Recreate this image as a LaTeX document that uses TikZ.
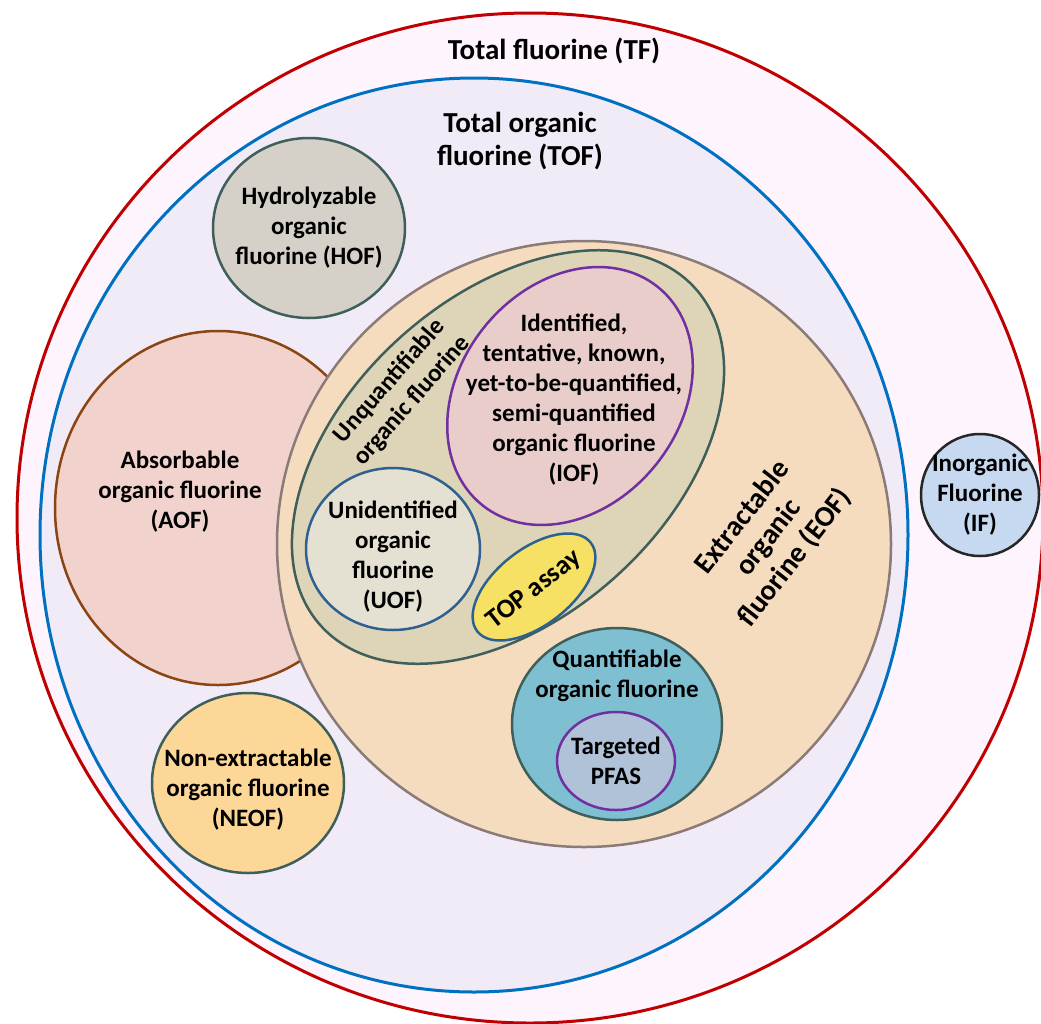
\documentclass[tikz,border=0pt]{standalone}
\usepackage{fontspec}
\setmainfont{Carlito}
\usepackage{tikz}
\usetikzlibrary{shapes.geometric}

\definecolor{tfline}{HTML}{C00000}
\definecolor{tffill}{HTML}{FDF4FD}
\definecolor{tofline}{HTML}{0070C0}
\definecolor{toffill}{HTML}{F1EBF7}
\definecolor{hoffill}{HTML}{D5D1C8}
\definecolor{darkslate}{HTML}{3F5F5A}
\definecolor{aofline}{HTML}{8B4513}
\definecolor{aoffill}{HTML}{F2D2CC}
\definecolor{neoffill}{HTML}{FDD797}
\definecolor{iffill}{HTML}{C6D9F1}
\definecolor{eofline}{HTML}{8B7B78}
\definecolor{eoffill}{HTML}{F5DCBF}
\definecolor{unqfill}{HTML}{DED4B8}
\definecolor{iofline}{HTML}{7030A0}
\definecolor{ioffill}{HTML}{E8CDCB}
\definecolor{uofline}{HTML}{2E6190}
\definecolor{uoffill}{HTML}{E4E0D2}
\definecolor{topfill}{HTML}{F7E164}
\definecolor{qoffill}{HTML}{7FBFD2}
\definecolor{pfasfill}{HTML}{AFC2D8}

\tikzset{
   zone/.style={ellipse, draw, line width=2.5pt, inner sep=0pt},
   tag/.style={inner sep=0pt, align=center, font=\bfseries\fontsize{25}{30}\selectfont},
   bigtag/.style={inner sep=0pt, align=center, font=\bfseries\fontsize{29}{33}\selectfont}
}

\begin{document}
\begin{tikzpicture}[x=1pt,y=-1pt]
   \useasboundingbox (0,0) rectangle (1041,1023);

   \node[name=tf, zone, minimum width=1026pt, minimum height=1010pt, style={
      draw = tfline,
      fill = tffill,
      line width = 3pt
   }] at (530,518) {};

   \node[name=tof, zone, minimum width=868pt, minimum height=914pt, style={
      draw = tofline,
      fill = toffill,
      line width = 3pt
   }] at (474,535) {};

   \node[name=hof, zone, minimum width=192pt, minimum height=180pt, style={
      draw = darkslate,
      fill = hoffill
   }] at (309,228) {};

   \node[name=aof, zone, minimum width=326pt, minimum height=354pt, style={
      draw = aofline,
      fill = aoffill
   }] at (218,508) {};

   \node[name=neof, zone, minimum width=192pt, minimum height=180pt, style={
      draw = darkslate,
      fill = neoffill
   }] at (248,783) {};

   \node[name=inf, zone, minimum width=118pt, minimum height=122pt, style={
      draw = black!85,
      fill = iffill
   }] at (980,495) {};

   \node[name=eof, zone, minimum width=614pt, minimum height=606pt, style={
      draw = eofline,
      fill = eoffill
   }] at (584,544) {};

   \node[name=unq, zone, minimum width=504pt, minimum height=322pt, rotate=42, style={
      draw = darkslate,
      fill = unqfill
   }] at (508,457) {};

   \node[name=iof, zone, minimum width=280pt, minimum height=220pt, rotate=51, style={
      draw = iofline,
      fill = ioffill
   }] at (570,396) {};

   \node[name=uof, zone, minimum width=174pt, minimum height=162pt, style={
      draw = uofline,
      fill = uoffill
   }] at (393,549) {};

   \node[name=top, zone, minimum width=144pt, minimum height=76pt, rotate=38, style={
      draw = uofline,
      fill = topfill
   }] at (534,587) {};

   \node[name=qof, zone, minimum width=210pt, minimum height=192pt, style={
      draw = darkslate,
      fill = qoffill
   }] at (617,724) {};

   \node[name=pfas, zone, minimum width=118pt, minimum height=98pt, style={
      draw = iofline,
      fill = pfasfill
   }] at (616,761) {};

   \node[name=tflabel, bigtag] at (554,51) {Total fluorine (TF)};
   \node[name=toflabel, bigtag] at (520,141) {Total organic\\fluorine (TOF)};
   \node[name=hoflabel, tag] at (hof.center) {Hydrolyzable\\organic\\fluorine (HOF)};
   \node[name=aoflabel, tag] at (180,492) {Absorbable\\organic fluorine\\(AOF)};
   \node[name=neoflabel, tag] at ([yshift=-7pt]neof.center) {Non-extractable\\organic fluorine\\(NEOF)};
   \node[name=inflabel, tag] at (inf.center) {Inorganic\\Fluorine\\(IF)};
   \node[name=eoflabel, bigtag, rotate=52] at (769,538) {Extractable\\organic\\fluorine (EOF)};
   \node[name=unqlabel, tag, rotate=49] at (401,391) {Unquantifiable\\organic fluorine};
   \node[name=ioflabel, tag] at ([xshift=4pt,yshift=-4pt]iof.center) {Identified,\\tentative, known,\\yet-to-be-quantified,\\semi-quantified\\organic fluorine\\(IOF)};
   \node[name=uoflabel, tag] at ([yshift=-8pt]uof.center) {Unidentified\\organic\\fluorine\\(UOF)};
   \node[name=toplabel, tag, rotate=38, font=\bfseries\fontsize{27}{30}\selectfont] at ([yshift=-3pt]top.center) {TOP assay};
   \node[name=qoflabel, tag] at ([yshift=48pt]qof.center) {Quantifiable\\organic fluorine};
   \node[name=pfaslabel, tag] at (pfas.center) {Targeted\\PFAS};

\end{tikzpicture}
\end{document}
